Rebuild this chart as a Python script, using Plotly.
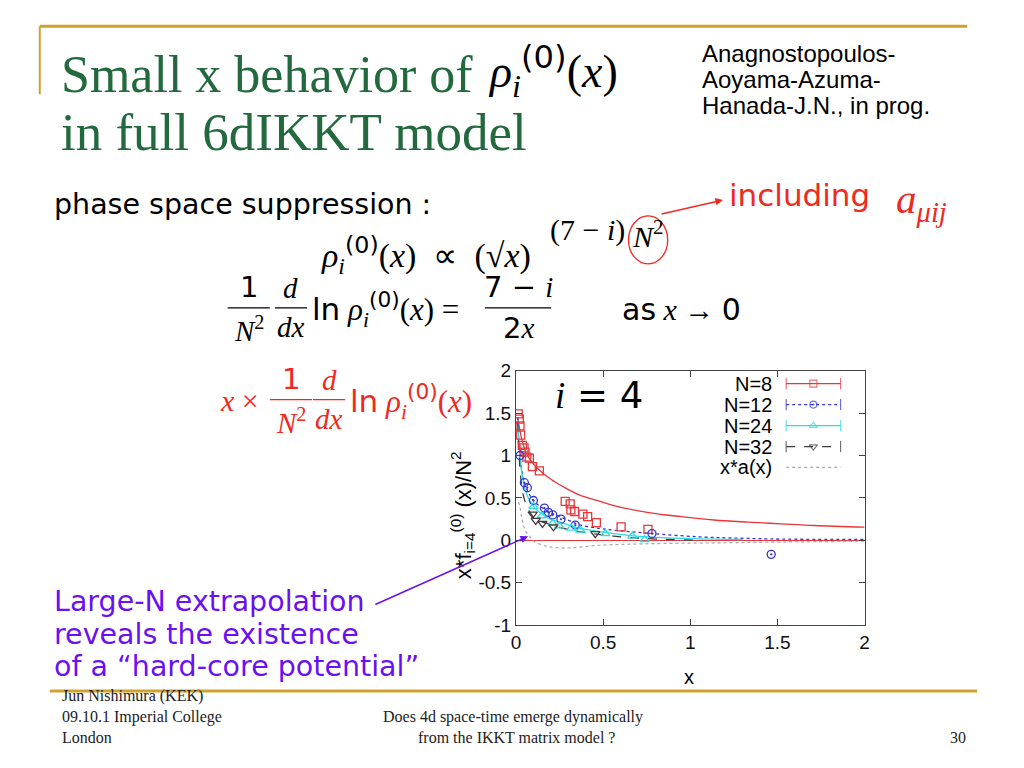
import plotly.graph_objects as go

W, H = 1024, 768
# the photographed page shows the figure slightly shrunk; these factors map the
# reference pixel positions back to figure pixels
SX, OX = 0.9856, 7.4
SY, OY = 0.9745, 8.64

# ---------------- data ----------------
# N=8 simulation points
x_n8 = [0.013, 0.019, 0.023, 0.027, 0.036, 0.046, 0.052, 0.062, 0.077, 0.094, 0.134,
        0.282, 0.311, 0.315, 0.336, 0.384, 0.411, 0.461, 0.603, 0.757]
y_n8 = [1.49, 1.43, 1.35, 1.24, 1.12, 1.09, 1.04, 0.98, 0.97, 0.87, 0.82,
        0.46, 0.43, 0.36, 0.34, 0.31, 0.28, 0.21, 0.16, 0.13]
# N=8 curve
fx_n8 = [0.01, 0.03, 0.06, 0.10, 0.138, 0.20, 0.273, 0.369, 0.465, 0.561, 0.753,
         0.945, 1.137, 1.33, 1.52, 1.71, 2.0]
fy_n8 = [1.45, 1.22, 1.02, 0.90, 0.82, 0.72, 0.63, 0.53, 0.47, 0.41, 0.33,
         0.28, 0.24, 0.215, 0.195, 0.175, 0.155]

# N=12
x_n12 = [0.023, 0.048, 0.065, 0.10, 0.163, 0.186, 0.211, 0.258, 0.34, 0.78, 1.464]
y_n12 = [1.00, 0.68, 0.62, 0.47, 0.38, 0.33, 0.30, 0.25, 0.18, 0.08, -0.165]
fx_n12 = [0.01, 0.023, 0.05, 0.10, 0.178, 0.274, 0.37, 0.48, 0.56, 0.78, 1.06, 1.29, 1.52, 2.0]
fy_n12 = [1.45, 1.00, 0.67, 0.47, 0.35, 0.26, 0.18, 0.14, 0.12, 0.08, 0.04, 0.025, 0.015, 0.01]

# N=24
x_n24 = [0.10, 0.148, 0.21, 0.248, 0.317, 0.369, 0.513, 0.667, 0.738]
y_n24 = [0.40, 0.29, 0.20, 0.17, 0.145, 0.12, 0.08, 0.05, 0.01]
fx_n24 = [0.01, 0.03, 0.06, 0.10, 0.178, 0.274, 0.37, 0.56, 0.75, 1.0, 1.3]
fy_n24 = [1.42, 0.85, 0.55, 0.40, 0.27, 0.20, 0.14, 0.08, 0.04, 0.02, 0.01]

# N=32
x_n32 = [0.096, 0.113, 0.152, 0.215, 0.455]
y_n32 = [0.31, 0.235, 0.20, 0.16, 0.08]
fx_n32 = [0.01, 0.04, 0.08, 0.12, 0.178, 0.274, 0.37, 0.56, 0.75, 1.07]
fy_n32 = [1.40, 0.55, 0.33, 0.24, 0.20, 0.14, 0.10, 0.05, 0.02, 0.0]

# x*a(x)
x_xa = [0.013, 0.02, 0.033, 0.052, 0.081, 0.11, 0.178, 0.29, 0.465, 0.753, 1.14, 1.52, 2.0]
y_xa = [0.45, 0.42, 0.27, 0.12, 0.04, -0.02, -0.07, -0.09, -0.06, -0.04, -0.03, -0.02, -0.01]

series_names = ["N=8", "N=12", "N=24", "N=32", "x*a(x)"]
x_ticks = [0, 0.5, 1, 1.5, 2]
y_ticks = [-1, -0.5, 0, 0.5, 1, 1.5, 2]

# ---------------- styling ----------------
RED = "#E8363A"
BLUE = "#3535D5"
CYAN = "#2ADCE4"
DARK = "#3C3C3C"
GRAY = "#A8A8A8"
GOLD = "#D1A12E"
GREEN = "#23693E"
PURPLE = "#6A10F2"
ORANGE_RED = "#EE2A22"


def px(x):
    """reference pixel x -> paper fraction"""
    return ((x - OX) / SX) / W


def py(y):
    """reference pixel y (from top) -> paper fraction"""
    return 1 - ((y - OY) / SY) / H


# plot box in reference pixels
BX0, BX1, BY0, BY1 = 516, 863, 370, 625
dom_x = [px(BX0), px(BX1)]
dom_y = [py(BY1), py(BY0)]

fig = go.Figure()

# fits
fig.add_trace(go.Scatter(x=fx_n8, y=fy_n8, mode="lines", line=dict(color=RED, width=1.3, shape="spline")))
fig.add_trace(go.Scatter(x=fx_n12, y=fy_n12, mode="lines", line=dict(color=BLUE, width=1.3, dash="dot", shape="spline")))
fig.add_trace(go.Scatter(x=fx_n24, y=fy_n24, mode="lines", line=dict(color=CYAN, width=1.3, shape="spline")))
fig.add_trace(go.Scatter(x=fx_n32, y=fy_n32, mode="lines", line=dict(color=DARK, width=1.3, dash="dash", shape="spline")))
fig.add_trace(go.Scatter(x=x_xa, y=y_xa, mode="lines", line=dict(color=GRAY, width=1.2, dash="dot", shape="spline")))

# data points
fig.add_trace(go.Scatter(x=x_n8, y=y_n8, mode="markers",
                         marker=dict(symbol="square-open", size=8, color=RED, line=dict(width=1.3))))
fig.add_trace(go.Scatter(x=x_n12, y=y_n12, mode="markers",
                         marker=dict(symbol="circle-open-dot", size=8, color=BLUE, line=dict(width=1.3))))
fig.add_trace(go.Scatter(x=x_n24, y=y_n24, mode="markers",
                         marker=dict(symbol="triangle-up-open", size=8, color=CYAN, line=dict(width=1.3))))
fig.add_trace(go.Scatter(x=x_n32, y=y_n32, mode="markers",
                         marker=dict(symbol="triangle-down-open", size=8, color=DARK, line=dict(width=1.3))))

# ---- gnuplot-style key (drawn on an overlay axis spanning the plot box 0..1) ----
KEY_X = [0.775, 0.853, 0.931]
KEY_Y = [0.949, 0.867, 0.784, 0.702, 0.620]
KEY_TEXT_X = 0.741
key_styles = [
    (RED, "solid", "square-open"),
    (BLUE, "dot", "circle-open-dot"),
    (CYAN, "solid", "triangle-up-open"),
    (DARK, "dash", "triangle-down-open"),
    (GRAY, "dot", None),
]
for (col, dash, sym), ky in zip(key_styles, KEY_Y):
    if sym:
        fig.add_trace(go.Scatter(
            x=KEY_X, y=[ky] * 3, xaxis="x2", yaxis="y2", mode="lines+markers",
            line=dict(color=col, width=1.2, dash=dash),
            marker=dict(symbol=["line-ns", sym, "line-ns"], size=[8, 7, 8], color=col,
                        line=dict(color=col, width=1.2))))
    else:
        fig.add_trace(go.Scatter(
            x=[KEY_X[0], KEY_X[2]], y=[ky] * 2, xaxis="x2", yaxis="y2", mode="lines",
            line=dict(color=col, width=1.2, dash=dash)))

axis_common = dict(showline=True, linecolor="#444", linewidth=1, mirror="ticks",
                   ticks="inside", ticklen=6, tickcolor="#444", showgrid=False,
                   tickfont=dict(family="Liberation Sans", size=19, color="#111"))

fig.update_layout(
    width=W, height=H, margin=dict(l=0, r=0, t=0, b=0),
    paper_bgcolor="white", plot_bgcolor="white", showlegend=False,
    xaxis=dict(domain=dom_x, range=[0, 2], tickvals=x_ticks, ticktext=[str(v) for v in x_ticks],
               zeroline=False, **axis_common),
    yaxis=dict(domain=dom_y, range=[-1, 2], tickvals=y_ticks,
               ticktext=[("-" if v < 0 else "") + str(abs(v)) for v in y_ticks],
               zeroline=True, zerolinecolor=RED, zerolinewidth=1.3, **axis_common),
    xaxis2=dict(overlaying="x", range=[0, 1], visible=False, fixedrange=True),
    yaxis2=dict(overlaying="y", range=[0, 1], visible=False, fixedrange=True),
)

ann = []
shapes = []


def text(x, y, s, size, color="black", family="Liberation Serif", xa="left", ya="middle", angle=0):
    ann.append(dict(x=px(x), y=py(y), xref="paper", yref="paper", text=s, showarrow=False,
                    xanchor=xa, yanchor=ya, textangle=angle, align="left" if xa == "left" else "center",
                    font=dict(family=family, size=size, color=color)))


def hline(x0, x1, y, color, width):
    shapes.append(dict(type="line", xref="paper", yref="paper", x0=px(x0), x1=px(x1),
                       y0=py(y), y1=py(y), line=dict(color=color, width=width)))


def arrow(x_head, y_head, x_tail, y_tail, color):
    ann.append(dict(x=px(x_head), y=py(y_head), xref="paper", yref="paper", text="", showarrow=True,
                    ax=(x_tail - x_head) / SX, ay=(y_tail - y_head) / SY,
                    arrowhead=2, arrowsize=1, arrowwidth=1.5, arrowcolor=color))


def frac(xc, yb, num, den, w, size, color):
    text(xc, yb - 2, num, size, color, xa="center", ya="bottom")
    text(xc, yb + 1, den, size, color, xa="center", ya="top")
    hline(xc - w / 2, xc + w / 2, yb, color, 1.3)


def sans(s):
    return "<span style='font-family:DejaVu Sans'>" + s + "</span>"


RHO = "<i>ρ</i><sub><i>i</i></sub><sup>" + sans("(0)") + "</sup>(<i>x</i>)"

# slide frame
hline(42, 965, 25, GOLD, 3)
shapes.append(dict(type="line", xref="paper", yref="paper", x0=px(42), x1=px(42), y0=py(25), y1=py(93),
                   line=dict(color=GOLD, width=2)))
hline(52, 975, 691, GOLD, 3)

# title
text(61, 73, "Small x behavior of", 52, GREEN)
text(486, 70, RHO, 46, "black")
text(61, 131, "in full 6dIKKT model", 53, GREEN)

# attribution
text(699, 52, "Anagnostopoulos-", 24, "black", family="Liberation Sans")
text(699, 78, "Aoyama-Azuma-", 24, "black", family="Liberation Sans")
text(699, 104, "Hanada-J.N., in prog.", 24, "black", family="Liberation Sans")

# phase space line
text(54, 204, "phase space suppression :", 28.5, "black", family="DejaVu Sans")
text(726, 194, "including", 31, ORANGE_RED, family="DejaVu Sans")
text(892, 201, "<i>a</i><sub><i>μij</i></sub>", 41, ORANGE_RED)

# formula 1
text(320, 254, RHO + "  ∝  (√<i>x</i>)", 34, "black")
text(548, 229, "(7 − <i>i</i>)", 30, "black")
text(647, 233, "<i>N</i><sup>2</sup>", 30, "black", xa="center")
shapes.append(dict(type="circle", xref="paper", yref="paper", x0=px(628), x1=px(667),
                   y0=py(215), y1=py(263), line=dict(color=ORANGE_RED, width=1.3)))
arrow(722, 199, 660, 213, ORANGE_RED)

# formula 2
F2Y = 307
frac(250, F2Y, sans("1"), "<i>N</i><sup>2</sup>", 42, 29, "black")
frac(292, F2Y, "<i>d</i>", "<i>dx</i>", 32, 29, "black")
text(311, F2Y + 2, sans("ln") + " " + RHO + " =", 31, "black")
frac(518, F2Y, sans("7 − ") + "<i>i</i>", sans("2") + "<i>x</i>", 66, 29, "black")
text(620, F2Y + 2, sans("as") + " <i>x</i> → " + sans("0"), 30, "black")

# formula 3 (red)
F3Y = 399
text(219, F3Y + 1, "<i>x</i> ×", 30, ORANGE_RED)
frac(292, F3Y, sans("1"), "<i>N</i><sup>2</sup>", 42, 29, ORANGE_RED)
frac(330, F3Y, "<i>d</i>", "<i>dx</i>", 32, 29, ORANGE_RED)
text(349, F3Y + 2, sans("ln") + " " + RHO, 31, ORANGE_RED)

# inside the plot
text(553, 395, "<i>i</i>" + sans(" = 4"), 37, "black")
for name, ky in zip(series_names, KEY_Y):
    ann.append(dict(x=KEY_TEXT_X, y=ky, xref="x2 domain", yref="y2 domain", text=name, showarrow=False,
                    xanchor="right", yanchor="middle",
                    font=dict(family="Liberation Sans", size=20, color="black")))

# axis titles
text(688, 677, "x", 20, "black", family="Liberation Sans", xa="center")
text(463, 515, "x*f<sub>i=4</sub><sup>(0)</sup> (x)/N<sup>2</sup>", 22, "black",
     family="Liberation Sans", xa="center", angle=-90)

# purple note + arrow
text(54, 601, "Large-N extrapolation", 28.5, PURPLE, family="DejaVu Sans")
text(54, 634, "reveals the existence", 28.5, PURPLE, family="DejaVu Sans")
text(54, 666, "of a “hard-core potential”", 28.5, PURPLE, family="DejaVu Sans")
arrow(528, 536, 376, 603, PURPLE)

# footer
text(62, 696, "Jun Nishimura (KEK)", 16, "#222")
text(62, 717, "09.10.1 Imperial College", 16, "#222")
text(62, 738, "London", 16, "#222")
text(513, 717, "Does 4d space-time emerge dynamically", 16, "#222", xa="center")
text(517, 738, "from the IKKT matrix model ?", 16, "#222", xa="center")
text(956, 738, "30", 16, "#222", xa="center")

fig.update_layout(annotations=ann, shapes=shapes)

fig.write_html("out.html", config={"displayModeBar": False},
               post_script="document.body.style.margin='0';document.body.style.overflow='hidden';")
